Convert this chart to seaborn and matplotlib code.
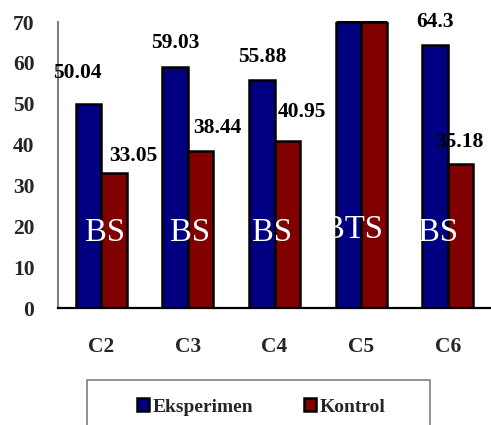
import numpy as np
import pandas as pd
import matplotlib
matplotlib.use("Agg")
import matplotlib.pyplot as plt
from matplotlib.patches import Rectangle
from matplotlib.transforms import offset_copy
import seaborn as sns

# Mean scores per indicator for the two groups
categories = ["C2", "C3", "C4", "C5", "C6"]
eksperimen = [50.04, 59.03, 55.88, 78.12, 64.3]
kontrol = [33.05, 38.44, 40.95, 74.37, 35.18]
significance = ["BS", "BS", "BS", "BTS", "BS"]
groups = ["Eksperimen", "Kontrol"]

# Label offsets (pixels) from the top centre of each bar
offsets_eks = [(-11, 31), (0, 24), (1, 23), (0, 23), (0, 23)]
offsets_kon = [(19, 17), (17, 23), (15, 29), (0, 23), (-1, 22)]
# Horizontal nudges (pixels) for the significance labels
sig_dx = [4, 2.5, -2.5, -8, -9.5]

sns.set_style("white")
plt.rcParams["font.family"] = ["Liberation Serif", "DejaVu Serif"]

df = pd.DataFrame({
    "Kategori": categories * 2,
    "Kelompok": [groups[0]] * len(categories) + [groups[1]] * len(categories),
    "Nilai": eksperimen + kontrol,
})

W, H = 491, 425
YMAX = 70
fig = plt.figure(figsize=(W / 100, H / 100), dpi=100)
ax = fig.add_axes([58 / W, 1 - 308 / H, (W - 58) / W, (308 - 22) / H])

sns.barplot(data=df, x="Kategori", y="Nilai", hue="Kelompok",
            palette=["#000080", "#800000"], width=0.59, gap=0,
            edgecolor="black", linewidth=1.8, saturation=1,
            errorbar=None, ax=ax)

ax.set_ylim(0, YMAX)
ax.set_xlim(-0.5, len(categories) - 0.5)
ax.set_xlabel("")
ax.set_ylabel("")
ax.set_yticks(np.arange(0, YMAX + 1, 10))

ax.set_yticklabels([str(v) for v in range(0, YMAX + 1, 10)],
                   fontsize=15.5, fontweight="bold")
ax.set_xticks(range(len(categories)))
ax.set_xticklabels(categories, fontsize=15.5, fontweight="bold")
ax.set_xticks(np.arange(len(categories)) - 0.5, minor=True)

ax.tick_params(axis="y", direction="out", length=6, width=1.2,
               color="#808080", pad=11)
ax.tick_params(axis="x", which="major", length=0, pad=21)
ax.tick_params(axis="x", which="minor", direction="out", length=7,
               width=1.2, color="#808080")

for side in ("top", "right"):
    ax.spines[side].set_visible(False)
ax.spines["left"].set_color("#808080")
ax.spines["left"].set_linewidth(1.5)
ax.spines["bottom"].set_color("black")
ax.spines["bottom"].set_linewidth(1.6)

# Outline the cut-off top of bars that run past the axis limit
for container in ax.containers:
    for bar in container.patches:
        if bar.get_height() > YMAX:
            ax.hlines(YMAX, bar.get_x(), bar.get_x() + bar.get_width(),
                      color="black", linewidth=2.2, clip_on=False, zorder=3)

# Value labels
value_font = dict(fontsize=15.5, fontweight="bold", color="black",
                  ha="center", va="center")
for container, vals, offs in zip(ax.containers, [eksperimen, kontrol],
                                 [offsets_eks, offsets_kon]):
    for bar, v, (dx, dy) in zip(container.patches, vals, offs):
        ax.annotate(f"{v:g}", xy=(bar.get_x() + bar.get_width() / 2, v),
                    xytext=(dx, dy), textcoords="offset pixels",
                    **value_font)

# Significance labels inside each pair of bars
for i, (lab, dx) in enumerate(zip(significance, sig_dx)):
    left = ax.containers[0].patches[i]
    right = ax.containers[1].patches[i]
    x0 = left.get_x()
    x1 = right.get_x() + right.get_width()
    y = 19.2 if lab == "BTS" else 18.4
    tr = offset_copy(ax.transData, fig=fig, x=dx, y=0, units="dots")
    t = ax.text(i, y, lab, color="white", fontsize=23.5,
                ha="center", va="center", transform=tr)
    clip = Rectangle((x0, 0), x1 - x0, YMAX, transform=ax.transData)
    t.set_clip_path(clip)

# Legend
handles, labels = ax.get_legend_handles_labels()
if ax.legend_ is not None:
    ax.legend_.remove()
fig.legend(handles, labels, loc="center", ncol=2, frameon=False,
           bbox_to_anchor=(261.5 / W, 1 - 407 / H),
           prop=dict(family="Liberation Serif", weight="bold", size=14),
           handlelength=0.6, handleheight=0.6, handletextpad=0.2,
           columnspacing=2.6)
fig.patches.append(Rectangle((87 / W, -0.1), (430 - 87) / W,
                             (H - 380) / H + 0.1, transform=fig.transFigure,
                             fill=False, edgecolor="#808080", linewidth=1.2))

fig.savefig("out.png", dpi=100)
